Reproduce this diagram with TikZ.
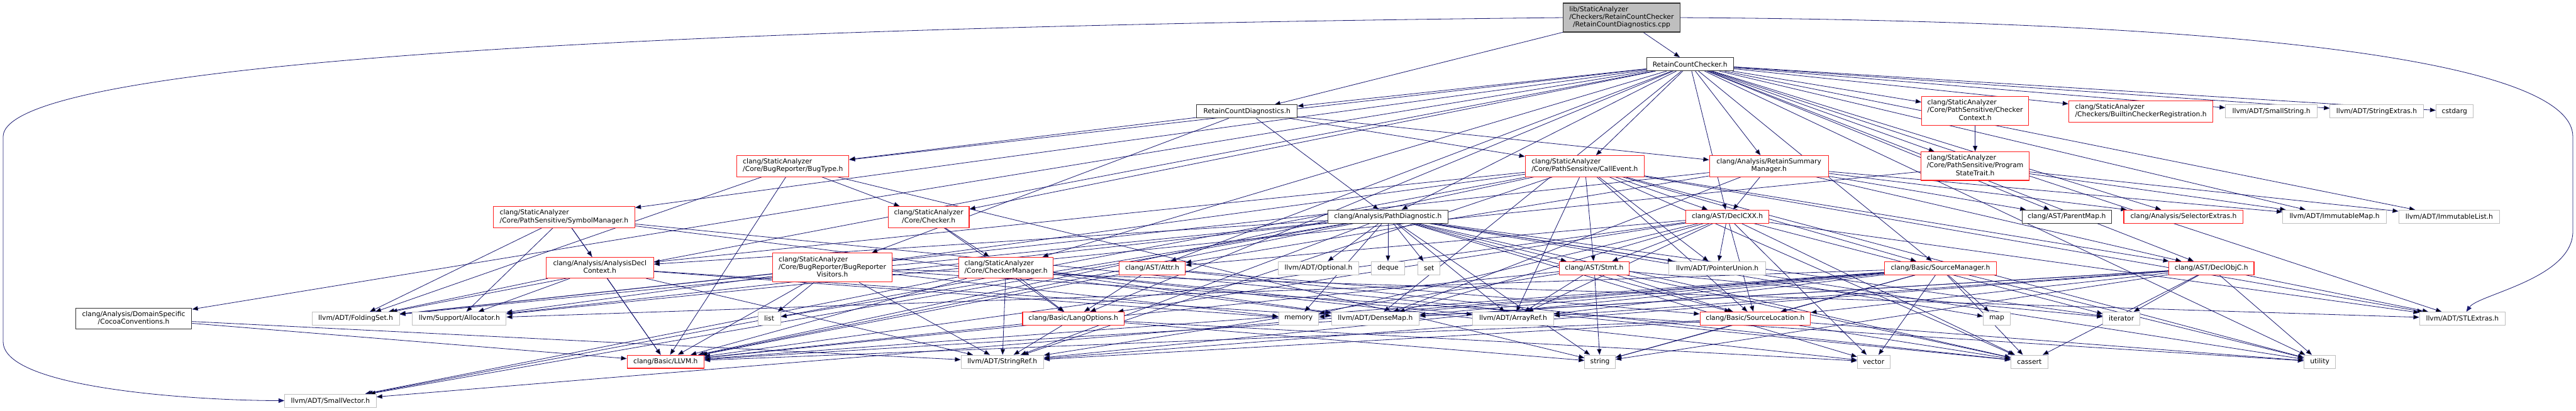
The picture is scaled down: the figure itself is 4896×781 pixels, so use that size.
\documentclass[tikz,border=0pt]{standalone}
\usepackage{fontspec}
\setmainfont{DejaVu Sans}
\usetikzlibrary{arrows.meta}
\definecolor{edgeblue}{HTML}{191970}
\definecolor{grey75}{HTML}{BFBFBF}
\definecolor{truncred}{HTML}{FF2020}
% header label: left-aligned lines, last line centred
\newcommand{\hdr}[2]{\begin{tabular}{@{}l@{}}#1\\\multicolumn{1}{@{}c@{}}{#2}\end{tabular}}
\pgfdeclarelayer{bg}
\pgfsetlayers{bg,main}
\tikzset{
  hfile/.style={draw=grey75, fill=white, line width=0.6pt, inner sep=0pt,
    minimum height=0.5cm, font=\fontsize{7.3}{8.3}\selectfont},
  redfile/.style={hfile, draw=truncred, line width=0.75pt},
  docfile/.style={hfile, draw=black!80, line width=0.75pt},
  bw/.style={minimum width=#1*0.02cm},
  bh/.style={minimum height=#1*0.02cm},
  dep/.style={->, draw=edgeblue, line width=0.55pt}
}
\begin{document}
\begin{tikzpicture}[x=0.02cm, y=-0.02cm, >={Triangle[length=0.22cm, width=0.17cm]}]
\useasboundingbox (0,0) rectangle (4896,781);
% top levels
\node[docfile, fill=grey75, bw=222, bh=55] (root) at (3082,33.5) {\hdr{lib/StaticAnalyzer\\/Checkers/RetainCountChecker}{/RetainCountDiagnostics.cpp}};
\node[docfile, bw=165] (rcc) at (3212,122) {RetainCountChecker.h};
\node[docfile, bw=191] (rcd) at (2370,212) {RetainCountDiagnostics.h};
\node[redfile, bw=203, bh=55] (cctx) at (3754,211) {\hdr{clang/StaticAnalyzer\\/Core/PathSensitive/Checker}{Context.h}};
\node[redfile, bw=274, bh=40] (bcr) at (4069,212) {\hdr{clang/StaticAnalyzer}{/Checkers/BuiltinCheckerRegistration.h}};
\node[hfile, bw=174] (sstr) at (4317,212) {llvm/ADT/SmallString.h};
\node[hfile, bw=177] (sext) at (4517,212) {llvm/ADT/StringExtras.h};
\node[hfile, bw=70] (cstdarg) at (4665,212) {cstdarg};
\node[redfile, bw=213, bh=40] (bugtype) at (1507,316) {\hdr{clang/StaticAnalyzer}{/Core/BugReporter/BugType.h}};
\node[redfile, bw=226, bh=40] (callev) at (3012,316) {\hdr{clang/StaticAnalyzer}{/Core/PathSensitive/CallEvent.h}};
\node[redfile, bw=226, bh=40] (rsm) at (3362,316) {\hdr{clang/Analysis/RetainSummary}{Manager.h}};
\node[redfile, bw=205, bh=54] (pst) at (3754,316) {\hdr{clang/StaticAnalyzer\\/Core/PathSensitive/Program}{StateTrait.h}};
% middle rows
\node[redfile, bw=269, bh=40] (symm) at (1072,413) {\hdr{clang/StaticAnalyzer}{/Core/PathSensitive/SymbolManager.h}};
\node[redfile, bw=154, bh=40] (checker) at (1765,413) {\hdr{clang/StaticAnalyzer}{/Core/Checker.h}};
\node[docfile, bw=229] (pd) at (2638,412) {clang/Analysis/PathDiagnostic.h};
\node[redfile, bw=158] (declcxx) at (3283,412) {clang/AST/DeclCXX.h};
\node[docfile, bw=170] (parent) at (3928,412) {clang/AST/ParentMap.h};
\node[redfile, bw=227] (selx) at (4150,412) {clang/Analysis/SelectorExtras.h};
\node[hfile, bw=197] (imap) at (4437,412) {llvm/ADT/ImmutableMap.h};
\node[hfile, bw=192] (ilist) at (4655,412) {llvm/ADT/ImmutableList.h};
\node[redfile, bw=204, bh=40] (adc) at (1140,509) {\hdr{clang/Analysis/AnalysisDecl}{Context.h}};
\node[redfile, bw=227, bh=55] (brv) at (1582,509) {\hdr{clang/StaticAnalyzer\\/Core/BugReporter/BugReporter}{Visitors.h}};
\node[redfile, bw=180, bh=40] (cmgr) at (1912,509) {\hdr{clang/StaticAnalyzer}{/Core/CheckerManager.h}};
\node[redfile, bw=125] (attr) at (2190,510) {clang/AST/Attr.h};
\node[hfile, bw=153] (opt) at (2506,510) {llvm/ADT/Optional.h};
\node[hfile, bw=63] (sdeque) at (2638,510) {deque};
\node[hfile, bw=42] (sset) at (2716,510) {set};
\node[redfile, bw=133] (stmt) at (3030,510) {clang/AST/Stmt.h};
\node[hfile, bw=184] (punion) at (3264,510) {llvm/ADT/PointerUnion.h};
\node[redfile, bw=212] (srcmgr) at (3688,510) {clang/Basic/SourceManager.h};
\node[redfile, bw=162] (declobjc) at (4203,510) {clang/AST/DeclObjC.h};
% lower rows
\node[docfile, bw=221, bh=40] (cocoa) at (254,606) {\hdr{clang/Analysis/DomainSpecific}{/CocoaConventions.h}};
\node[hfile, bw=166] (fold) at (676,606) {llvm/ADT/FoldingSet.h};
\node[hfile, bw=178] (alloc) at (873,606) {llvm/Support/Allocator.h};
\node[hfile, bw=43] (slist) at (1462,606) {list};
\node[redfile, bw=193] (lang) at (2040,606) {clang/Basic/LangOptions.h};
\node[hfile, bw=76] (smem) at (2468,606) {memory};
\node[hfile, bw=167] (dmap) at (2614,606) {llvm/ADT/DenseMap.h};
\node[hfile, bw=154] (aref) at (2876,606) {llvm/ADT/ArrayRef.h};
\node[redfile, bw=210] (sloc) at (3336,606) {clang/Basic/SourceLocation.h};
\node[hfile, bw=51] (smap) at (3795,606) {map};
\node[hfile, bw=70] (siter) at (4032,606) {iterator};
\node[hfile, bw=163] (stlx) at (4680,606) {llvm/ADT/STLExtras.h};
\node[redfile, bw=146] (llvmh) at (1265,688) {clang/Basic/LLVM.h};
\node[hfile, bw=157] (sref) at (1905,688) {llvm/ADT/StringRef.h};
\node[hfile, bw=58] (sstring) at (3041,688) {string};
\node[hfile, bw=62] (svector) at (3561,688) {vector};
\node[hfile, bw=70] (scassert) at (3857,688) {cassert};
\node[hfile, bw=60] (sutil) at (4409,688) {utility};
\node[hfile, bw=174] (svec) at (628,762) {llvm/ADT/SmallVector.h};

\begin{pgfonlayer}{bg}
\coordinate (lbend) at (6,260);
\coordinate (lbend2) at (6,650);
\coordinate (rbend) at (4890,260);
\coordinate (rbend2) at (4890,440);
\draw[dep] (root) edge (rcd) edge (rcc);
\draw[dep] (root.west) .. controls (1400,50) and (6,110) .. (lbend) -- (lbend2) .. controls (6,740) and (380,762) .. (svec.west);
\draw[dep] (root.east) .. controls (4300,40) and (4890,120) .. (rbend) -- (rbend2) .. controls (4890,530) and (4710,560) .. (stlx.60);
\draw[dep] (rcc) edge (rcd) edge (attr) edge (declcxx) edge (declobjc) edge (parent)
  edge (cocoa) edge (pd) edge (rsm) edge (lang) edge (srcmgr) edge (selx) edge (bcr)
  edge (bugtype) edge (checker) edge (cmgr) edge (callev) edge (cctx) edge (pst)
  edge (symm) edge (dmap) edge (fold) edge (ilist) edge (imap) edge (stlx)
  edge (sstr) edge (sext) edge (cstdarg) edge (sutil);
\draw[dep] (rcd) edge (rsm) edge (bugtype) edge (brv) edge (callev) edge (pd);
\draw[dep] (bugtype) edge (checker) edge (llvmh) edge (fold) edge (sstring);
\draw[dep] (checker) edge (cmgr) edge (lang);
\draw[dep] (cmgr) edge (lang) edge (llvmh) edge (aref) edge (dmap) edge (svec) edge (sref) edge (svector);
\draw[dep] (lang) edge (llvmh) edge (sref) edge (sstring) edge (svector);
\draw[dep] (callev) edge (declcxx) edge (declobjc) edge (stmt) edge (llvmh) edge (sloc)
  edge (srcmgr) edge (adc) edge (aref) edge (punion) edge (stlx) edge (svec) edge (sref)
  edge (alloc) edge (scassert) edge (sutil);
\draw[dep] (rsm) edge (declcxx) edge (attr) edge (parent) edge (selx) edge (dmap) edge (fold) edge (imap) edge (declobjc);
\draw[dep] (cctx) edge (pst);
\draw[dep] (pst) edge (ilist) edge (imap) edge (alloc);
\draw[dep] (symm) edge (adc) edge (llvmh) edge (dmap) edge (fold) edge (alloc) edge (scassert);
\draw[dep] (pd) edge (stmt) edge (adc) edge (llvmh) edge (sloc) edge (aref) edge (fold)
  edge (opt) edge (punion) edge (svec) edge (sref) edge (alloc) edge (scassert) edge (sdeque)
  edge (siter) edge (slist) edge (smap) edge (smem) edge (sset) edge (sstring) edge (sutil) edge (svector);
\draw[dep] (adc) edge (llvmh) edge (dmap) edge (fold) edge (sref) edge (alloc) edge (smem);
\draw[dep] (brv) edge (llvmh) edge (fold) edge (stlx) edge (sref) edge (slist) edge (smem) edge (sutil);
\draw[dep] (declcxx) edge (attr) edge (stmt) edge (llvmh) edge (lang) edge (sloc) edge (aref)
  edge (dmap) edge (punion) edge (stlx) edge (scassert) edge (siter) edge (smem) edge (svector);
\draw[dep] (attr) edge (lang) edge (llvmh) edge (sloc) edge (scassert);
\draw[dep] (stmt) edge (llvmh) edge (sloc) edge (aref) edge (sref) edge (scassert) edge (siter) edge (sstring);
\draw[dep] (srcmgr) edge (sloc) edge (llvmh) edge (aref) edge (dmap) edge (svec) edge (sref)
  edge (alloc) edge (scassert) edge (smap) edge (smem) edge (sstring) edge (sutil) edge (svector);
\draw[dep] (sloc) edge (llvmh) edge (sref) edge (scassert) edge (sstring) edge (sutil);
\draw[dep] (declobjc) edge (llvmh) edge (sloc) edge (aref) edge (dmap) edge (stlx) edge (sref)
  edge (scassert) edge (siter) edge (sstring) edge (sutil);
\draw[dep] (cocoa) edge (llvmh) edge (sref);
\end{pgfonlayer}
\end{tikzpicture}
\end{document}
